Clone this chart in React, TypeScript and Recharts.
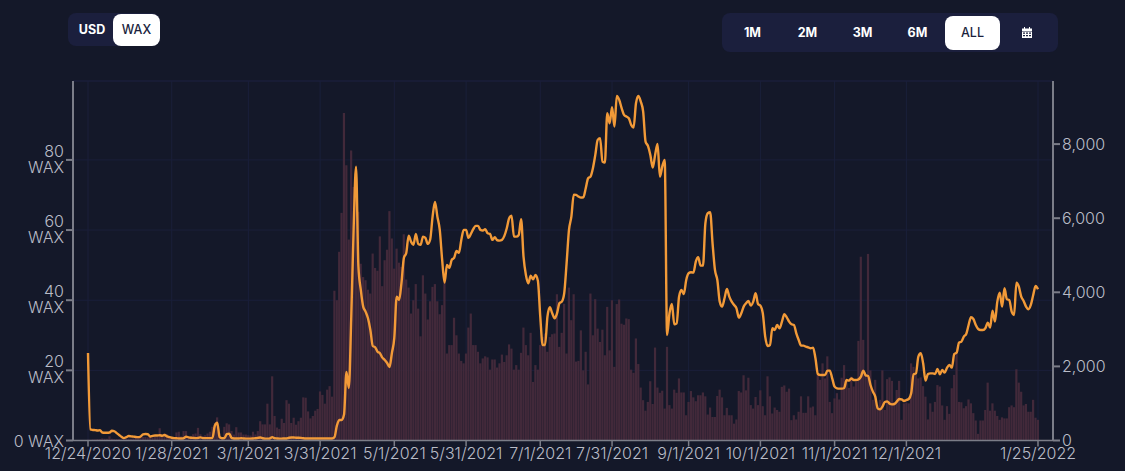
import React from 'react';
import { ComposedChart, Bar, Line, XAxis, YAxis, CartesianGrid, ReferenceLine } from 'recharts';

const FONT = 'Inter, sans-serif';
const BG = '#141829';
const PANEL = '#1b1f3d';
const GRID = '#1a1f3a';
const AXIS = '#7b7d88';
const TEXT = '#b9bcc7';

// 12/24/2020 is day 0, one value per day up to 1/25/2022
const tickDays = [0, 35, 67, 97, 128, 158, 189, 219, 251, 281, 312, 342, 397];
const tickLabels = ['12/24/2020', '1/28/2021', '3/1/2021', '3/31/2021', '5/1/2021', '5/31/2021', '7/1/2021', '7/31/2021', '9/1/2021', '10/1/2021', '11/1/2021', '12/1/2021', '1/25/2022'];
const leftTicks = [0, 20, 40, 60, 80];
const rightTicks = [0, 2000, 4000, 6000, 8000];
const rangeButtons = ['1M', '2M', '3M', '6M'];

const priceLine = [
  2362, 300, 285, 280, 270, 280, 215, 210, 210, 215,
  265, 250, 200, 150, 100, 65, 90, 120, 110, 105,
  95, 90, 110, 165, 175, 170, 105, 125, 135, 135,
  140, 130, 150, 110, 90, 75, 65, 60, 55, 55,
  60, 105, 85, 75, 70, 65, 70, 85, 65, 65,
  65, 65, 70, 400, 480, 90, 60, 65, 170, 185,
  70, 55, 55, 55, 60, 55, 50, 50, 50, 55,
  60, 70, 80, 60, 50, 50, 55, 90, 60, 55,
  50, 50, 55, 55, 75, 80, 80, 75, 75, 70,
  60, 55, 55, 55, 55, 55, 55, 55, 55, 55,
  55, 55, 55, 90, 400, 553, 553, 700, 1850, 1418,
  3300, 5700, 7393, 4700, 4063, 3613, 3478, 3300, 2983, 2551,
  2516, 2398, 2354, 2236, 2174, 2093, 1985, 2363, 2768, 3883,
  3794, 4252, 4928, 5063, 5530, 5368, 5279, 5576, 5306, 5279,
  5503, 5468, 5306, 5425, 6043, 6440, 6043, 5684, 4874, 4261,
  4739, 4658, 4874, 4928, 5117, 5063, 5414, 5684, 5684, 5468,
  5576, 5702, 5792, 5792, 5684, 5666, 5702, 5594, 5576, 5414,
  5486, 5405, 5396, 5414, 5522, 5729, 6000, 6070, 5503, 5503,
  5548, 5971, 4963, 4468, 4243, 4450, 4351, 4468, 4315, 3343,
  2578, 2578, 3343, 3595, 3433, 3298, 3433, 3703, 3748, 3973,
  4783, 5683, 6043, 6637, 6628, 6583, 6556, 6565, 6808, 7078,
  7123, 7348, 7708, 8113, 8158, 7528, 7500, 8834, 8563, 8996,
  8473, 9301, 9193, 8968, 8788, 8743, 8698, 8518, 8446, 9103,
  9301, 9148, 8878, 8068, 7951, 7708, 7366, 7708, 8005, 7123,
  7400, 7573, 2848, 3434, 3685, 3136, 3163, 3883, 4063, 3955,
  4333, 4513, 4540, 4531, 4828, 4945, 4720, 4720, 5863, 6133,
  6160, 5323, 4603, 4333, 3748, 3613, 3838, 4090, 3883, 3748,
  3658, 3568, 3316, 3433, 3613, 3703, 3766, 3640, 3748, 3973,
  3685, 3640, 3433, 2803, 2551, 2578, 3028, 2983, 3118, 3028,
  3208, 3406, 3325, 3208, 3136, 3118, 2893, 2713, 2560, 2560,
  2533, 2515, 2488, 2506, 2218, 1795, 1768, 1768, 1768, 1885,
  1885, 1678, 1453, 1408, 1399, 1399, 1417, 1633, 1615, 1678,
  1633, 1633, 1651, 1723, 1885, 1759, 1741, 1498, 1318, 1183,
  868, 841, 913, 1039, 1057, 994, 976, 985, 1048, 1120,
  1111, 1066, 1093, 1120, 1273, 1786, 1813, 2263, 2353, 2083,
  1615, 1795, 1813, 1813, 1795, 1930, 1786, 1903, 1831, 1966,
  2038, 1966, 2335, 2371, 2641, 2668, 2803, 2875, 3118, 3325,
  3280, 3118, 3010, 2983, 2983, 3028, 3181, 3046, 3505, 3208,
  3748, 3991, 3613, 4108, 3811, 3793, 3478, 3388, 4261, 4153,
  3883, 3766, 3613, 3541, 3658, 3928, 4171, 4081,
];

const volumeBars = [
  0.2, 0.2, 0.3, 0.3, 0.4, 0.4, 0.6, 0.5, 0.5, 1.2,
  0.5, 0.4, 0.4, 0.4, 0.3, 0.4, 0.5, 0.5, 0.5, 0.6,
  0.8, 0.8, 0.9, 1, 1, 0.9, 1, 0.9, 1, 1,
  3.5, 1.5, 2, 1.8, 1, 1, 1, 2.3, 2.5, 1.2,
  2.7, 2.7, 1.3, 1.3, 1.8, 2, 3.6, 1.8, 1.3, 1.5,
  2, 2.5, 3.9, 4.9, 6.6, 2, 1, 3.9, 4.9, 4.6,
  2.7, 1.7, 3.8, 2.3, 2.3, 1.7, 1.7, 1.5, 1.4, 2.5,
  1.7, 2.7, 5.5, 4.6, 4.6, 10.5, 4.6, 18.3, 7, 3.7,
  3.3, 6.2, 5, 11.5, 10.5, 5, 6.5, 4.5, 5.5, 6.5,
  12.3, 12.2, 8.3, 6.3, 7, 8.5, 9, 14, 13, 10.5,
  14.5, 15.5, 12.5, 42.7, 40, 53.8, 64.9, 93.4, 78.5, 57.3,
  82.7, 72.3, 70, 65.2, 50.4, 46.6, 45.7, 43, 41.9, 53.3,
  49.2, 48.4, 58.2, 44, 51.4, 54.4, 65.4, 57.6, 49, 54.7,
  50.7, 49.5, 58.8, 45.9, 43.6, 36.2, 40, 44.6, 37.6, 29.7,
  47.1, 41.9, 34.5, 39.7, 43.8, 44.6, 39.7, 36, 38.6, 45,
  24.8, 27.2, 27.2, 35, 30, 24.8, 22.7, 22, 24.8, 32.2,
  36.2, 27.2, 27.2, 25.3, 22, 23.4, 24, 23.7, 20.2, 23.1,
  23.1, 20.8, 22, 24.5, 22.4, 24.3, 27.4, 26.2, 20.2, 21.5,
  20.2, 25, 32.2, 27.2, 24.3, 30.7, 16.7, 21.5, 20.2, 27.2,
  29.5, 30.5, 25.3, 29.5, 30.3, 30.5, 41.7, 26.7, 30.7, 39,
  24.8, 43.6, 34.3, 41.7, 22.5, 22.7, 31.4, 20, 25.3, 16,
  41.9, 30, 40.3, 31.9, 28.1, 31.6, 24.3, 38.1, 25.7, 40,
  21, 38.9, 40.2, 33.3, 33, 34.8, 34.6, 20.2, 19.3, 29.1,
  21.8, 15.1, 11.5, 8.5, 11, 16.9, 10.4, 26.5, 15.1, 13.6,
  14.2, 9.1, 26.7, 10.1, 9.1, 14.5, 13.6, 17.7, 13.7, 13.7,
  7.2, 11, 14.1, 12.3, 11.2, 12.9, 12.9, 13.7, 12.6, 7.4,
  9.4, 6.7, 6.7, 12.7, 14.5, 12.3, 7.2, 9.3, 7.2, 7.2,
  4.8, 6, 14.1, 13.7, 18.6, 14.3, 17.9, 10.1, 9.1, 12.4,
  10.1, 14.3, 9.8, 7.2, 18.3, 12.6, 7.7, 9.4, 8.7, 8.2,
  15.3, 15.7, 13.9, 14.8, 5.8, 7.2, 6, 8.2, 12.6, 7.9,
  7.9, 12.6, 9.4, 9.7, 7.2, 18.7, 17.3, 22, 17.7, 24,
  11, 7.8, 12, 13.5, 11.7, 17.9, 21.5, 17.3, 15, 18.2,
  15.4, 16.8, 28.4, 52.4, 28.7, 18.7, 53.2, 20, 11.6, 17.3,
  10, 11.6, 20, 8.7, 17.5, 18, 17, 11, 14.4, 17,
  5.9, 10.6, 10.8, 10.6, 22, 21, 18.7, 17.7, 18, 15.5,
  12.5, 6, 10.6, 8.2, 11, 15.8, 15.4, 10, 5.9, 9.8,
  7.6, 14.9, 18.7, 24.7, 11, 10.9, 9.2, 9.8, 11.7, 10.6,
  7.8, 5.7, 1.9, 5.7, 5.7, 8.7, 16.5, 8.5, 10.6, 8.5,
  7, 5.9, 6.6, 6.3, 6.3, 9.5, 10, 9.5, 20.3, 16.5,
  13.9, 10, 10.4, 8.2, 8.2, 11.6, 6.5, 5.9,
];

const chartData = priceLine.map((price, day) => ({ day, price, volume: volumeBars[day] }));

// "0 WAX" stays on one line, the others wrap under the number
const LeftTick = ({ x, y, payload }: any) => {
  const style = { fontFamily: FONT, fontSize: 16, fontWeight: 300, fill: TEXT };
  if (payload.value === 0) {
    return <text x={x} y={y + 6} textAnchor="end" {...style}>0 WAX</text>;
  }
  return (
    <text textAnchor="end" {...style}>
      <tspan x={x} y={y - 3}>{payload.value}</tspan>
      <tspan x={x} y={y + 13}>WAX</tspan>
    </text>
  );
};

const buttonText = { fontFamily: FONT, fontSize: 12.5, fontWeight: 700, color: '#ffffff', textAlign: 'center' as const };
const activeText = { fontFamily: FONT, fontSize: 12.5, fontWeight: 500, color: '#1b1f3d', background: '#ffffff', textAlign: 'center' as const };

const App = () => (
  <div style={{ position: 'relative', width: 1125, height: 471, background: BG, overflow: 'hidden' }}>
    <style>{`body{margin:0;background:${BG}}`}</style>

    <div style={{ position: 'absolute', left: 68, top: 13, width: 92, height: 33, borderRadius: 8, background: PANEL }}>
      <div style={{ ...buttonText, position: 'absolute', left: 0, top: 0, width: 48, lineHeight: '33px' }}>USD</div>
      <div style={{ ...activeText, position: 'absolute', left: 45, top: 1, width: 47, height: 32, lineHeight: '32px', borderRadius: 8 }}>WAX</div>
    </div>

    <div style={{ position: 'absolute', left: 722, top: 13, width: 336, height: 39, borderRadius: 8, background: PANEL }}>
      {rangeButtons.map((label, i) => (
        <div key={label} style={{ ...buttonText, position: 'absolute', left: 3 + i * 55, top: 0, width: 55, lineHeight: '39px' }}>{label}</div>
      ))}
      <div style={{ ...activeText, position: 'absolute', left: 223, top: 3, width: 55, height: 34, lineHeight: '34px', borderRadius: 8 }}>ALL</div>
      <svg style={{ position: 'absolute', left: 300, top: 14 }} width="10" height="11" viewBox="0 0 10 11">
        <path fill="#ffffff" d="M2 0h1v1.5h4V0h1v1.5h2V4H0V1.5h2zM0 4.6h10V11H0zM1 5.6v1.2h2V5.6zm3 0v1.2h2V5.6zm3 0v1.2h2V5.6zM1 8v1.2h2V8zm3 0v1.2h2V8zm3 0v1.2h2V8z" fillRule="evenodd" />
      </svg>
    </div>

    <div style={{ position: 'absolute', left: 0, top: 0 }}>
      <ComposedChart width={1125} height={471} data={chartData} margin={{ top: 81, right: 0, bottom: 0, left: 0 }}>
        <CartesianGrid yAxisId="left" stroke={GRID} strokeWidth={1} />
        <XAxis
          dataKey="day"
          type="number"
          domain={[-6.27, 403.27]}
          ticks={tickDays}
          interval={0}
          height={30.5}
          tickSize={6}
          tickMargin={1}
          stroke={AXIS}
          strokeWidth={1.5}
          tickFormatter={(d: number) => tickLabels[tickDays.indexOf(d)]}
          tick={{ fontFamily: FONT, fontSize: 16, fontWeight: 300, fill: TEXT }}
        />
        <YAxis
          yAxisId="left"
          orientation="left"
          width={73}
          domain={[0, 102.5]}
          ticks={leftTicks}
          interval={0}
          tickSize={7}
          stroke={AXIS}
          strokeWidth={2}
          tick={<LeftTick />}
        />
        <YAxis
          yAxisId="right"
          orientation="right"
          width={72}
          domain={[0, 9703]}
          ticks={rightTicks}
          interval={0}
          tickSize={7}
          tickMargin={2}
          stroke={AXIS}
          strokeWidth={2}
          tickFormatter={(v: number) => v.toLocaleString('en-US')}
          tick={{ fontFamily: FONT, fontSize: 16, fontWeight: 300, fill: TEXT }}
        />
        <ReferenceLine yAxisId="left" y={102.5} stroke={GRID} />
        <Bar yAxisId="left" dataKey="volume" barSize={2.2} fill="#42293a" isAnimationActive={false} />
        <Line yAxisId="right" type="monotone" dataKey="price" stroke="#f29a38" strokeWidth={2.4} dot={false} isAnimationActive={false} />
      </ComposedChart>
    </div>
  </div>
);

export default App;
